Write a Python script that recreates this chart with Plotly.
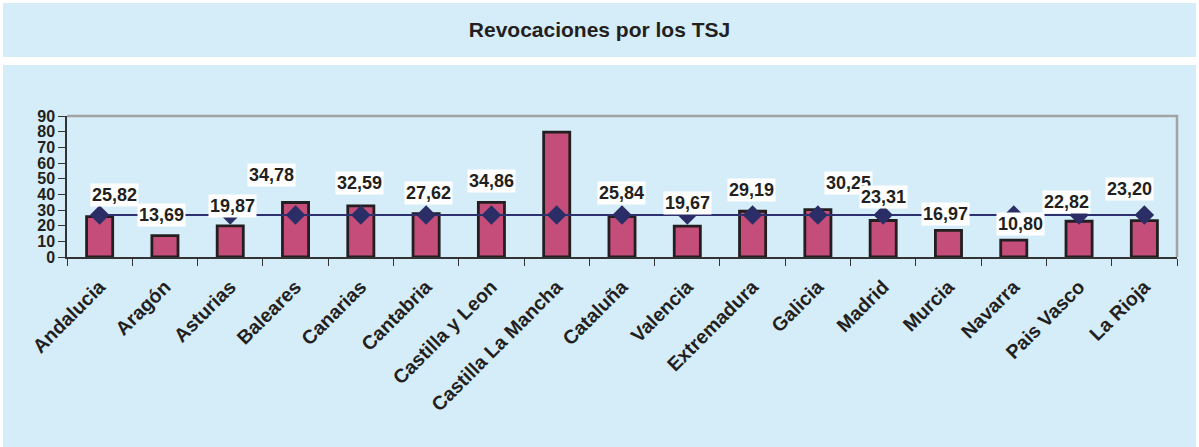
import plotly.graph_objects as go

categories = ["Andalucia", "Aragón", "Asturias", "Baleares", "Canarias", "Cantabria",
              "Castilla y Leon", "Castilla La Mancha", "Cataluña", "Valencia", "Extremadura",
              "Galicia", "Madrid", "Murcia", "Navarra", "Pais Vasco", "La Rioja"]
values = [25.82, 13.69, 19.87, 34.78, 32.59, 27.62, 34.86, 79.74, 25.84, 19.67, 29.19,
          30.25, 23.31, 16.97, 10.80, 22.82, 23.20]
average = [26.8] * 17
value_labels = ["25,82", "13,69", "19,87", "34,78", "32,59", "27,62", "34,86", "79,74", "25,84",
                "19,67", "29,19", "30,25", "23,31", "16,97", "10,80", "22,82", "23,20"]
y_ticks = [0, 10, 20, 30, 40, 50, 60, 70, 80, 90]

# label placement (data-units height, pixel x shift)
label_y = [39.6, 26.8, 32.6, 52.3, 47.2, 40.9, 48.5, 93.8, 40.9, 34.5, 42.8, 47.2, 38.3,
           27.4, 21.1, 35.1, 43.4]
label_dx = [15, -3, 2, -24, -1, 2, 0, -1, -1, 0, -1, 31, 0, -3, 7, -13, -15]

W, H = 1199, 447
L, R, T, B = 67, W - 1177, 116, H - 257
pw, ph = W - L - R, H - T - B

def px(x):
    return (x - L) / pw

def py(y):
    return (H - B - y) / ph

blue = "#D5EDF9"
dark = "#231F20"
font = "Liberation Sans, Arial, sans-serif"

fig = go.Figure()
fig.add_trace(go.Bar(x=categories, y=values, width=0.4,
                     marker=dict(color="#C44D7A", line=dict(color=dark, width=2.8)),
                     hoverinfo="x+y"))
fig.add_trace(go.Scatter(x=categories, y=average, mode="lines+markers",
                         line=dict(color="#2E3170", width=2),
                         marker=dict(symbol="diamond", size=15, color="#2B2E66")))

for c, ly, dx, t in zip(categories, label_y, label_dx, value_labels):
    fig.add_annotation(x=c, y=ly, text=t, showarrow=False, xshift=dx,
                       bgcolor="white", borderpad=1,
                       font=dict(family=font, size=18, color=dark, weight="bold"))

shapes = [
    dict(type="rect", xref="paper", yref="paper", x0=px(3), x1=px(1196), y0=py(57), y1=py(3),
         fillcolor=blue, line=dict(width=0), layer="below"),
    dict(type="rect", xref="paper", yref="paper", x0=px(3), x1=px(1196), y0=py(447), y1=py(65),
         fillcolor=blue, line=dict(width=0), layer="below"),
    dict(type="path", xref="paper", yref="paper", path="M 0,1 L 1,1 L 1,0",
         line=dict(color="#A3A3A3", width=2.5), layer="above"),
]

fig.update_layout(
    width=W, height=H,
    margin=dict(l=L, r=R, t=T, b=B, pad=0),
    paper_bgcolor="white",
    plot_bgcolor="#D8D7D5",
    showlegend=False,
    shapes=shapes,
    title=dict(text="Revocaciones por los TSJ", x=0.5, xanchor="center",
               y=1 - 30 / H, yanchor="middle",
               font=dict(family=font, size=21, color=dark, weight="bold")),
    xaxis=dict(range=[-0.5, 16.5], showline=True, linecolor="#333", linewidth=1.5,
               ticks="outside", tickson="boundaries", ticklen=7, tickcolor="#333", tickwidth=1,
               tickangle=-45, showgrid=False, ticklabelstandoff=9,
               tickfont=dict(family=font, size=19.5, color=dark, weight="bold")),
    yaxis=dict(range=[0, 90], tickvals=y_ticks, showline=True, linecolor="#333", linewidth=1.5,
               ticks="outside", ticklen=7, tickcolor="#333", showgrid=False, zeroline=False,
               tickfont=dict(family=font, size=16, color=dark, weight="bold")),
)

fig.write_html("out.html", config={"displayModeBar": False},
               post_script="document.body.style.margin='0';")
